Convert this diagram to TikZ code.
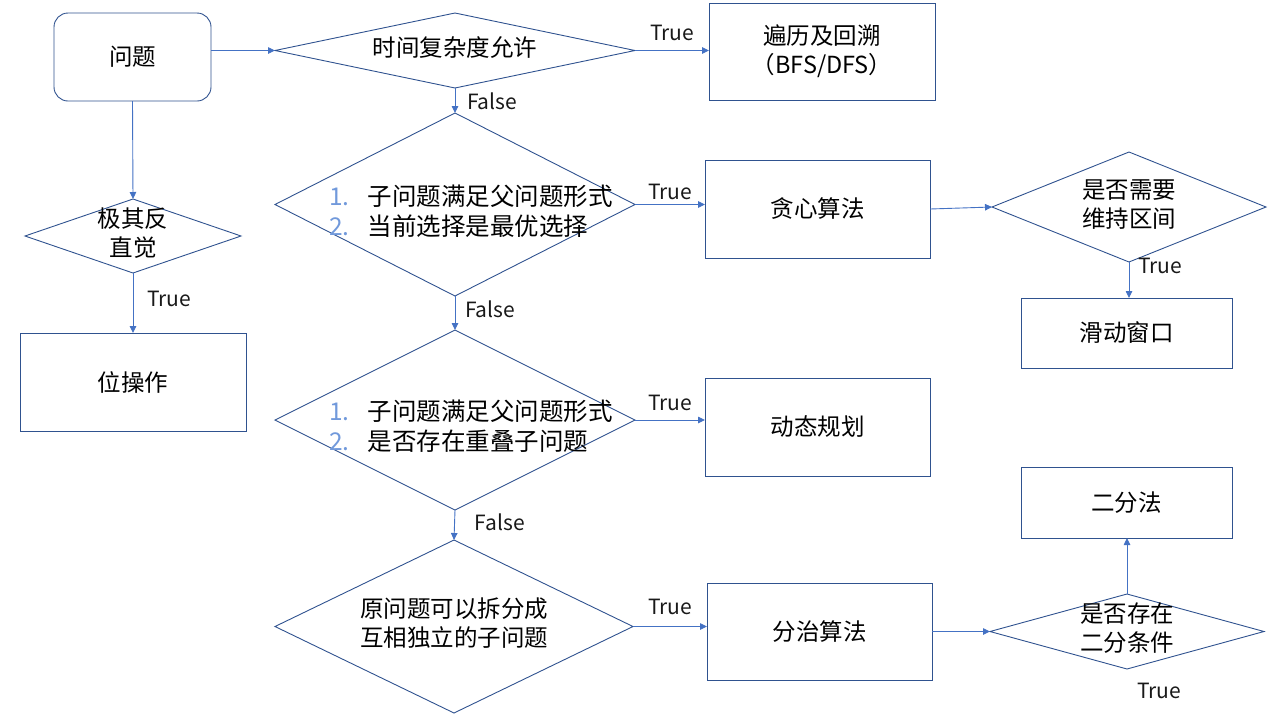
\documentclass[tikz,border=0pt]{standalone}
\usepackage{fontspec}
\setmainfont{Noto Sans CJK SC}
\usetikzlibrary{shapes.geometric,arrows.meta}
\definecolor{boxline}{HTML}{2F528F}
\definecolor{arrowblue}{HTML}{4472C4}
\definecolor{numblue}{HTML}{7199DB}
\newcommand{\dtext}[1]{\makebox[0pt]{\begin{tabular}{@{}c@{}}#1\end{tabular}}}
\newcommand{\dlist}[2]{\raisebox{-16pt}[0pt][0pt]{\makebox[0pt]{\fontsize{24.5}{30}\selectfont\begin{tabular}{@{}l@{\hspace{18pt}}l@{}}{\color{numblue}1.}&#1\\{\color{numblue}2.}&#2\end{tabular}}}}
\begin{document}
\begin{tikzpicture}[y=1pt, x=1pt, yscale=-1, inner sep=0pt, outer sep=0pt,
  font=\fontsize{23.5}{29}\selectfont,
  proc/.style={draw=boxline, line width=0.9pt, rectangle, align=center},
  dec/.style={draw=boxline, line width=0.9pt, diamond},
  flow/.style={draw=arrowblue, line width=0.9pt, -{Triangle[length=7pt,width=6.5pt]}},
  tag/.style={font=\fontsize{21}{25}\selectfont, text=black!90}]
\useasboundingbox (0,0) rectangle (1281,721);
% left column
\node[proc, rounded corners=14pt, minimum width=157pt, minimum height=88pt] (wenti) at (132.5,57) {问题};
\node[dec, minimum width=216pt, minimum height=74pt] (fanzhijue) at (133,236) {\dtext{极其反\\直觉}};
\node[proc, minimum width=226pt, minimum height=98pt] (weicaozuo) at (133,382) {位操作};
% middle column
\node[dec, minimum width=360pt, minimum height=75pt] (fuzadu) at (455,50.5) {\dtext{时间复杂度允许}};
\node[dec, minimum width=360pt, minimum height=183pt] (tanxin_q) at (455,204.5) {\hspace{32pt}\dlist{子问题满足父问题形式}{当前选择是最优选择}};
\node[dec, minimum width=360pt, minimum height=180pt] (dp_q) at (455,420) {\hspace{32pt}\dlist{子问题满足父问题形式}{是否存在重叠子问题}};
\node[dec, minimum width=358pt, minimum height=173pt] (fenzhi_q) at (454,626.5) {\dtext{原问题可以拆分成\\互相独立的子问题}};
% right column
\node[proc, minimum width=226pt, minimum height=97pt] (huisu) at (822,51.5) {遍历及回溯\\（BFS/DFS）};
\node[proc, minimum width=225pt, minimum height=98pt] (tanxin) at (817.5,209) {贪心算法};
\node[proc, minimum width=225pt, minimum height=98pt] (dongtai) at (817.5,427) {动态规划};
\node[proc, minimum width=225pt, minimum height=97pt] (fenzhi) at (819.5,631.5) {分治算法};
\node[dec, minimum width=274pt, minimum height=110pt] (qujian) at (1129,207) {\dtext{是否需要\\维持区间}};
\node[proc, minimum width=211pt, minimum height=70pt] (huadong) at (1126.5,333) {滑动窗口};
\node[dec, minimum width=274pt, minimum height=75pt] (erfen_q) at (1127,631.5) {\dtext{是否存在\\二分条件}};
\node[proc, minimum width=211pt, minimum height=71pt] (erfen) at (1126.5,502.5) {二分法};
% connectors
\draw[flow] (wenti.east |- fuzadu.west) -- (fuzadu.west);
\draw[flow] (fuzadu.east) -- node[tag, above=10pt] {True} (fuzadu.east -| huisu.west);
\draw[flow] (fuzadu.south) -- node[tag, right=12pt, pos=0.55] {False} (tanxin_q.north);
\draw[flow] (tanxin_q.east) -- node[tag, above=5pt] {True} (tanxin_q.east -| tanxin.west);
\draw[flow] (tanxin.east) -- (qujian.west);
\draw[flow] (qujian.south) -- node[tag, right=9pt, pos=0.12] {True} (qujian.south |- huadong.north);
\draw[flow] (tanxin_q.south) -- node[tag, right=10pt, pos=0.4] {False} (dp_q.north);
\draw[flow] (dp_q.east) -- node[tag, above=9pt] {True} (dp_q.east -| dongtai.west);
\draw[flow] (dp_q.south) -- node[tag, right=20pt, pos=0.4] {False} (fenzhi_q.north);
\draw[flow] (fenzhi_q.east) -- node[tag, above=12pt] {True} (fenzhi_q.east -| fenzhi.west);
\draw[flow] (fenzhi.east) -- (erfen_q.west);
\draw[flow] (erfen_q.north) -- (erfen_q.north |- erfen.south);
\node[tag] (erfen_yes) at (1159,691) {True};
\draw[flow] (wenti.south) -- (fanzhijue.north);
\draw[flow] (fanzhijue.south) -- node[tag, right=14pt, pos=0.43] {True} (weicaozuo.north);
\end{tikzpicture}
\end{document}
